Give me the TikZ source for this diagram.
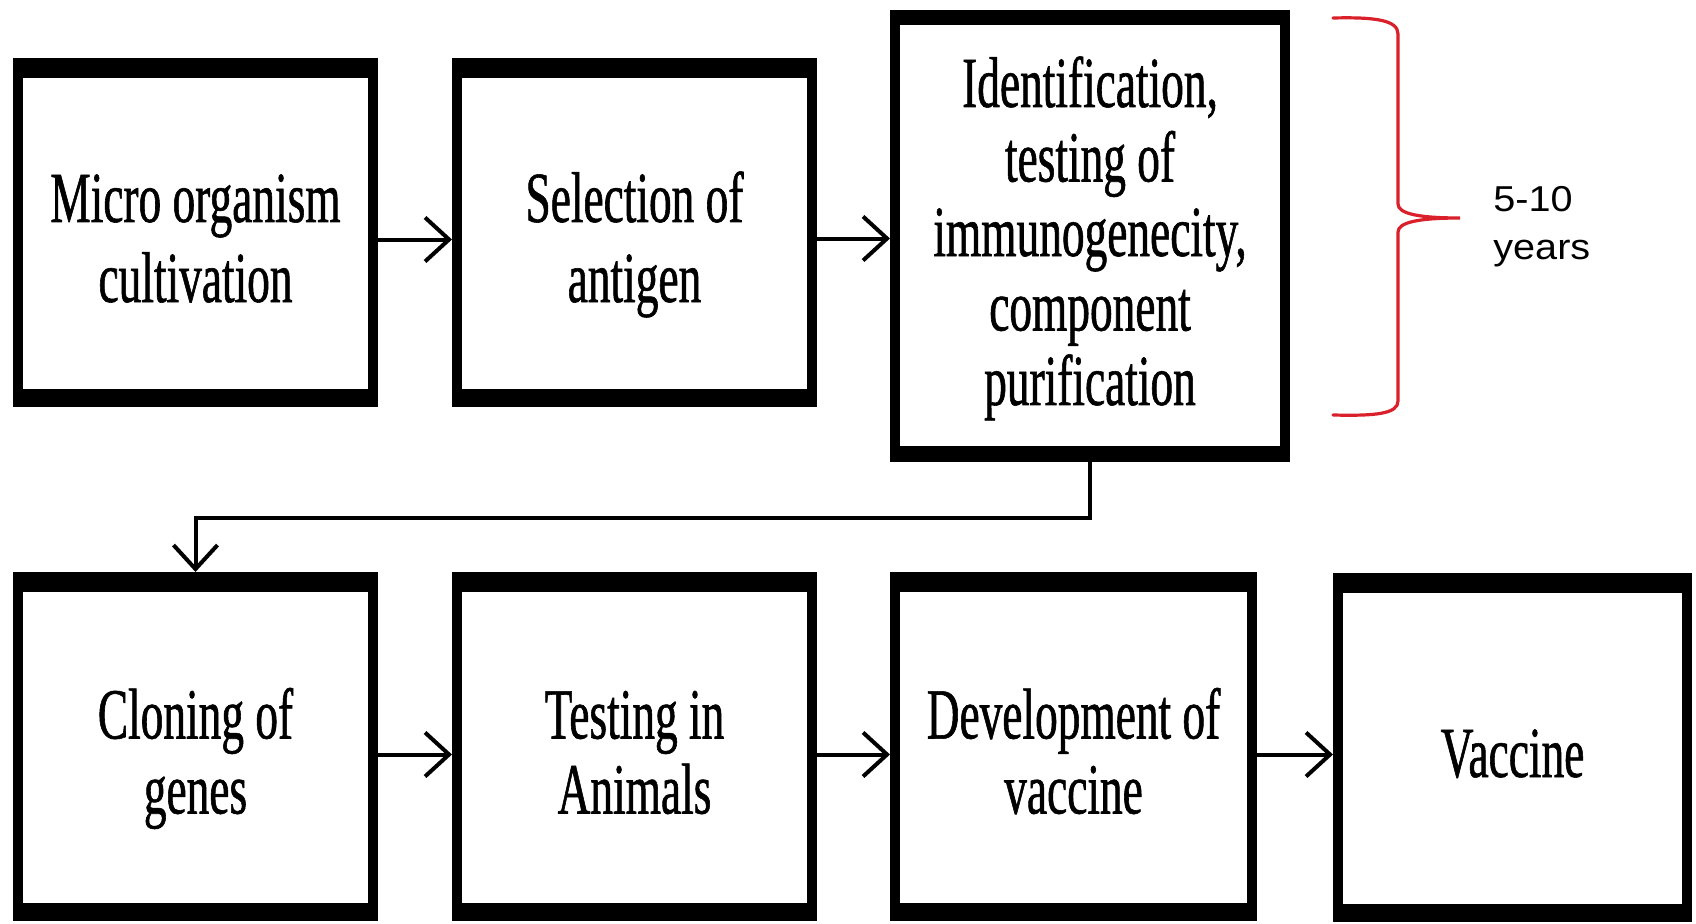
\documentclass[tikz,border=0pt]{standalone}
\usepackage{fontspec}
\newfontfamily\boxfont[FakeStretch=0.63,FakeBold=0.8]{Liberation Serif}
\newfontfamily\labfont[FakeStretch=1.1]{Liberation Sans}
\usetikzlibrary{arrows.meta}
\definecolor{braceRed}{RGB}{218,32,42}
% fixed line boxes so that all box texts sit alike
\newcommand{\firstln}[1]{\rule{0pt}{32pt}\smash{#1}}
\newcommand{\lastln}[1]{\smash{#1}\rule[-2.5pt]{0pt}{2.5pt}}
\newcommand{\onlyln}[1]{\rule[-2.5pt]{0pt}{34.5pt}\smash{#1}}
\newcommand{\topln}[1]{\rule{0pt}{28pt}\smash{#1}}
\newcommand{\botln}[1]{\smash{#1}\rule[-8pt]{0pt}{8pt}}
\tikzset{
  stepbox/.style={draw, line width=5pt, inner sep=0pt, align=center,
    font=\boxfont\fontsize{36pt}{40pt}\selectfont,
    path picture={
      \fill[black] (path picture bounding box.north west) rectangle ([yshift=-7.5pt]path picture bounding box.north east);
      \fill[black] (path picture bounding box.south west) rectangle ([yshift=6.5pt]path picture bounding box.south east);
    }},
  rowbox/.style={stepbox, minimum width=177.5pt, minimum height=169.5pt},
  lowbox/.style={font=\boxfont\fontsize{36pt}{37.5pt}\selectfont},
  arr/.style={draw, line width=2pt, -{Straight Barb[length=12pt,width=22pt]}},
  bracestyle/.style={draw=braceRed, line width=1.6pt, line cap=round}
}
\begin{document}
\begin{tikzpicture}[x=0.5pt, y=0.5pt]
\fill[white] (0,0) rectangle (1696,923);
\useasboundingbox (0,0) rectangle (1696,923);

% top row
\node[rowbox] (B1) at (195.5,690.5) {\firstln{Micro organism}\\\lastln{cultivation}};
\node[rowbox] (B2) at (634.5,690.5) {\firstln{Selection of}\\\lastln{antigen}};
\node[stepbox, minimum width=195pt, minimum height=221pt,
      font=\boxfont\fontsize{36pt}{37.25pt}\selectfont,
      path picture={
      \fill[black] (path picture bounding box.north west) rectangle ([yshift=-5pt]path picture bounding box.north east);
      \fill[black] (path picture bounding box.south west) rectangle ([yshift=5.5pt]path picture bounding box.south east);
    }] (B3) at (1090,687)
  {\topln{Identification,}\\testing of\\immunogenecity,\\component\\\botln{purification}};

% bottom row
\node[rowbox, lowbox] (B4) at (195.5,176.5) {\firstln{Cloning of}\\\lastln{genes}};
\node[rowbox, lowbox] (B5) at (634.5,176.5) {\firstln{Testing in}\\\lastln{Animals}};
\node[stepbox, lowbox, minimum width=178.5pt, minimum height=169.5pt] (B6) at (1073.5,176.5) {\firstln{Development of}\\\lastln{vaccine}};
\node[stepbox, minimum width=174.5pt, minimum height=169.5pt] (B7) at (1512.5,175.5) {\onlyln{Vaccine}};

% connectors
\draw[arr] ([yshift=-3.5pt]B1.east) -- ([yshift=-3.5pt]B1.east -| B2.west);
\draw[arr] ([yshift=-3pt]B2.east) -- ([yshift=-3pt]B2.east -| B3.west);
\coordinate (turn) at (0,405);
\draw[arr] (B3.south) -- (B3.south |- turn) -| (B4.north);
\draw[arr] ([yshift=-4pt]B4.east) -- ([yshift=-4pt]B4.east -| B5.west);
\draw[arr] ([yshift=-4pt]B5.east) -- ([yshift=-4pt]B5.east -| B6.west);
\draw[arr] ([yshift=-4pt]B6.east) -- ([yshift=-4pt]B6.east -| B7.west);

% brace
\draw[bracestyle] (1333,905) .. controls (1375,906) and (1398,903) .. (1398,889)
  -- (1398,719) .. controls (1398,709) and (1420,705) .. (1460,705)
  .. controls (1420,705) and (1398,701) .. (1398,691)
  -- (1398,522) .. controls (1398,509) and (1375,507) .. (1333,508);
\node[anchor=west, inner sep=0pt, align=left,
      font=\labfont\fontsize{18pt}{24pt}\selectfont] (years) at (1493,696) {5-10\\years};
\end{tikzpicture}
\end{document}
